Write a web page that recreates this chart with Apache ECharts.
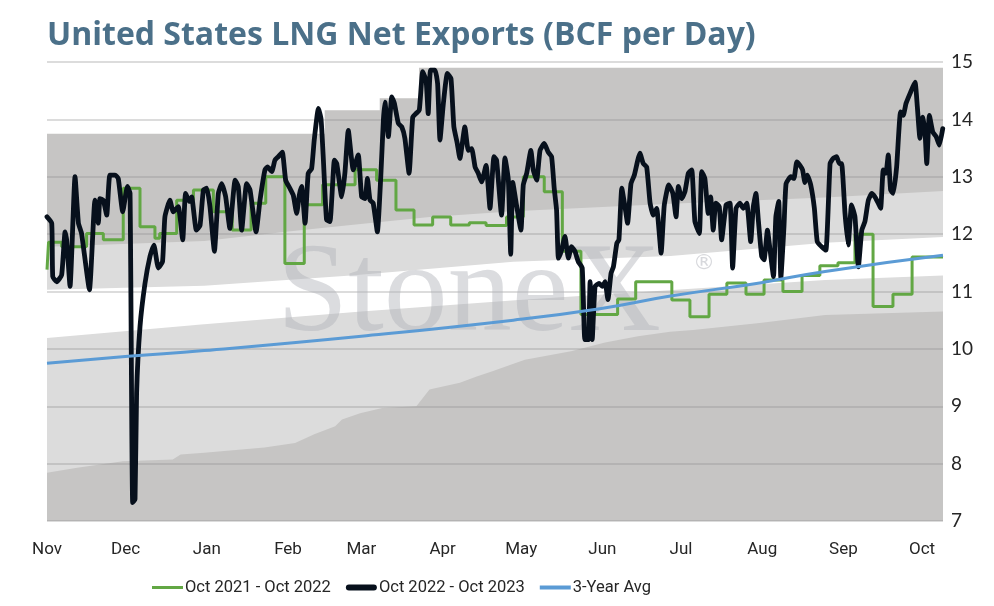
<!DOCTYPE html>
<html>
<head>
<meta charset="utf-8">
<script src="https://cdn.jsdelivr.net/npm/echarts@6/dist/echarts.min.js"></script>
<style>
html,body{margin:0;padding:0;background:#fff;}
#chart{width:994px;height:606px;}
</style>
</head>
<body>
<div id="chart"></div>
<script>
// X axis: days since Nov 1
const months = ['Nov','Dec','Jan','Feb','Mar','Apr','May','Jun','Jul','Aug','Sep','Oct'];
const monthStartDays = [0,30,61,92,120,151,181,212,242,273,304,334];
const yTicks = [7,8,9,10,11,12,13,14,15];

// Oct 2022 - Oct 2023 (daily)
const blackDays = [0,1.8,2.2,3.7,5.6,6.9,7.5,8.8,10.7,12.0,13.2,16.2,18.3,19.6,20.2,21.5,22.8,24.0,26.0,27.2,28.9,30.7,31.7,32.7,33.6,34.2,35.5,37.4,39.3,40.8,42.5,44.1,45.0,46.9,48.2,50.1,51.8,52.9,54.3,55.2,57.0,58.4,59.7,61.0,62.2,63.9,65.4,66.7,68.2,69.8,71.8,73.0,74.3,76.2,77.5,79.8,81.3,83.2,84.2,85.8,87.0,88.3,89.8,91.1,92.7,94.0,95.3,96.3,97.2,98.5,99.7,101.0,102.0,103.6,104.6,105.5,106.7,108.0,109.7,110.6,112.5,113.7,115.0,116.9,118.8,120.1,121.4,122.3,123.3,124.5,126.1,127.4,128.4,129.0,130.3,131.6,132.6,134.1,135.4,136.6,138.2,139.6,140.8,142.1,143.4,144.7,145.5,146.4,148.1,149.1,150.0,151.3,152.8,154.2,155.3,156.6,157.6,159.5,160.8,162.1,163.4,164.6,165.9,167.6,169.1,170.6,171.6,173.5,174.8,176.1,177.0,177.8,179.3,180.9,181.8,183.1,184.7,185.6,186.9,188.2,189.8,191.3,192.6,193.6,194.5,195.2,196.4,197.7,199.0,200.2,201.5,202.8,204.3,205.3,206.6,207.3,208.1,209.2,210.7,212.0,213.0,214.1,215.3,216.2,217.5,218.3,219.4,220.6,221.6,222.9,224.2,225.5,226.3,227.6,228.9,230.2,231.4,232.7,234.4,235.6,237.3,238.9,240.1,241.0,242.3,243.5,244.8,246.1,247.3,249.0,249.9,251.1,252.4,253.3,254.3,255.3,256.6,257.5,259.2,260.7,261.7,263.0,264.5,265.8,267.1,268.6,269.6,270.6,271.5,272.8,273.7,275.0,276.0,277.3,278.2,279.3,280.1,281.3,282.1,283.9,285.1,286.2,287.4,288.4,289.3,290.2,291.5,292.9,294.0,295.7,297.3,298.9,300.1,301.4,302.4,303.3,304.6,305.8,307.1,308.4,309.7,311.0,312.2,313.5,314.8,316.0,317.3,318.2,319.2,320.2,321.1,322.0,323.0,324.3,325.8,326.8,327.9,329.4,331.3,332.2,333.2,334.2,335.1,335.8,336.8,338.1,339.4,340.6,341.9];
const blackValues = [12.30,12.19,11.26,11.17,11.29,12.04,11.9,11.09,13.0,12.19,12.01,11.03,12.59,12.19,12.62,12.59,12.33,13.03,13.03,12.97,12.39,12.83,12.71,7.32,7.38,9.23,10.39,11.14,11.61,11.81,11.41,11.52,12.3,12.59,12.39,12.48,11.9,12.71,12.57,12.65,12.07,12.15,12.77,12.8,12.48,11.7,12.71,12.88,12.65,12.1,12.94,12.83,12.07,12.88,12.77,12.04,12.59,13.12,13.17,13.09,13.29,13.35,13.43,12.94,12.8,12.68,12.36,12.68,12.83,12.19,13.06,13.14,13.64,14.19,14.01,13.29,12.25,12.22,13.29,13.23,12.65,13.06,13.81,13.12,13.38,12.65,12.62,12.97,12.59,12.54,12.04,13.0,13.99,14.3,13.7,14.39,14.28,13.93,13.87,13.67,13.06,14.04,14.1,14.16,14.83,14.68,14.1,14.86,14.86,14.62,13.64,14.28,14.8,14.71,13.87,13.58,13.32,13.87,13.46,13.49,13.17,13.06,12.91,13.2,12.45,13.35,13.29,12.33,13.33,12.94,11.65,12.9,12.48,12.07,12.86,13.06,13.46,13.12,12.94,13.46,13.58,13.43,13.35,12.8,12.42,11.58,11.72,11.96,11.58,11.78,11.7,11.52,11.41,10.16,10.16,11.17,10.16,11.09,11.14,11.09,11.17,10.86,11.32,11.43,11.84,11.9,12.8,12.48,12.19,12.88,13.03,13.29,13.41,13.23,13.17,12.54,12.33,12.45,11.67,12.5,12.86,12.71,12.3,12.83,12.62,12.74,13.06,13.12,12.22,12.01,13.09,12.97,12.36,12.65,12.07,12.54,12.48,11.9,12.51,12.54,11.41,12.45,12.54,12.45,12.54,11.87,12.48,12.71,12.25,11.61,11.55,12.07,11.72,11.26,12.3,12.57,11.23,12.13,12.88,13.0,12.97,13.26,13.2,13.12,12.9,13.03,12.86,12.45,11.87,11.78,11.72,13.23,13.32,13.35,13.23,13.23,12.36,11.81,12.51,12.3,11.43,12.07,12.22,12.59,12.71,12.65,12.54,12.45,13.12,13.06,13.38,12.77,12.71,13.17,14.13,14.07,14.28,14.45,14.65,14.22,13.67,14.04,13.81,13.23,14.07,13.78,13.7,13.55,13.84];

// Oct 2021 - Oct 2022 (step changes)
const greenDays = [0,0.6,5.6,15.1,21.5,29.1,35.5,41.2,43,49.5,55.9,63.5,70.7,77.9,83.5,90.8,98.2,105.2,117.6,125.8,133.2,140.1,147.2,154.1,161.2,167.6,175.4,181.8,189.8,196.7,203.8,217.8,224.7,238.5,245.4,252.7,259.5,266.8,273.7,280.9,288.2,295,301.9,308.4,315.3,322.9,330.2,342];
const greenValues = [11.38,11.86,11.78,12.01,11.9,12.8,12.13,11.93,12.01,12.59,12.77,12.39,12.07,12.54,13.0,11.49,12.51,12.86,13.12,12.94,12.42,12.16,12.3,12.16,12.2,12.15,12.3,13.0,12.74,11.7,10.6,10.87,11.17,10.85,10.56,10.95,11.15,10.95,11.2,11.0,11.28,11.45,11.5,12.0,10.74,10.95,11.6,11.6];

// 3-Year Avg
const avgDays = [0,31,60,120,178,211,238,272,297,342];
const avgValues = [9.75,9.87,9.97,10.22,10.5,10.7,10.92,11.15,11.35,11.63];

// Historical range bands (boundaries, bottom to top)
const maxDays = [0,106,127,142,342];
const maxValues = [13.75,14.16,14.37,14.9,14.9];
const upperDays = [0,60,93,116,146,178,238,297,342];
const upperValues = [11.78,11.88,12.05,12.16,12.3,12.4,12.53,12.64,12.75];
const midHighDays = [0,60,116,178,238,297,342];
const midHighValues = [11.03,11.1,11.28,11.52,11.62,11.85,11.95];
const midLowDays = [0,60,120,180,230,297,342];
const midLowValues = [10.19,10.43,10.65,10.85,11.0,11.2,11.28];
const minDays = [0,11.5,29,48,51,60,83,94.7,102,110,112.6,119.5,128,141,146,157.6,164,170,178.6,182.4,200,213,225.6,237.8,246.6,272,297,342];
const minValues = [7.84,7.93,8.04,8.07,8.16,8.19,8.28,8.36,8.51,8.65,8.77,8.88,8.97,9.0,9.29,9.41,9.52,9.61,9.75,9.81,9.96,10.11,10.22,10.3,10.33,10.45,10.59,10.65];

const pair = (xs, ys) => xs.map((x, i) => [x, ys[i]]);
const DARK = '#c6c5c4', LIGHT = '#dcdcdc', WHITE = '#ffffff';
const FONT = 'Lato';
const NARROW = 'Roboto';
const GREEN = '#62a744', BLACK = '#07101c', BLUE = '#5b9bd5';

function band(xs, ys, color, step) {
  return {
    type: 'line', data: pair(xs, ys), symbol: 'none', z: 1, silent: true,
    step: step || false,
    lineStyle: { width: 0 }, areaStyle: { color: color, opacity: 1 },
    emphasis: { disabled: true }
  };
}

const chart = echarts.init(document.getElementById('chart'), null, { renderer: 'canvas' });
chart.setOption({
  animation: false,
  backgroundColor: '#ffffff',
  title: {
    text: 'United States LNG Net Exports (BCF per Day)',
    left: 42, top: 15,
    textStyle: { fontFamily: '"Open Sans"', fontSize: 32, fontWeight: 'bold', color: '#4b7089' }
  },
  grid: { left: 47, right: 51, top: 62, bottom: 85 },
  legend: {
    left: 147, top: 574,
    itemWidth: 31, itemHeight: 14, itemGap: 15,
    data: [
      { name: 'Oct 2021 - Oct 2022', icon: 'path://M0,0h31v3h-31z', itemStyle: { color: GREEN } },
      { name: 'Oct 2022 - Oct 2023', icon: 'path://M3,0h25a3,3 0 0 1 0,6h-25a3,3 0 0 1 0,-6z', itemStyle: { color: BLACK } },
      { name: '3-Year Avg', icon: 'path://M0,0h31v4h-31z', itemStyle: { color: BLUE } }
    ],
    textStyle: { fontFamily: NARROW, fontSize: 16.5, color: '#262626', padding: [0, 0, 0, -3] }
  },
  xAxis: {
    type: 'value', min: 0, max: 342,
    axisLine: { show: false }, axisTick: { show: false }, splitLine: { show: false },
    axisLabel: {
      customValues: monthStartDays,
      formatter: v => months[monthStartDays.indexOf(v)],
      fontFamily: NARROW, fontSize: 17, color: '#262626', margin: 20
    }
  },
  yAxis: {
    type: 'value', position: 'right', min: yTicks[0], max: yTicks[yTicks.length - 1], interval: 1,
    z: 1.5,
    axisLine: { show: false }, axisTick: { show: false },
    axisLabel: { fontFamily: FONT, fontSize: 19, color: '#262626', margin: 8 },
    splitLine: { lineStyle: { color: 'rgba(140,140,140,0.3)', width: 2 } }
  },
  graphic: [
    { type: 'text', left: 277, top: 232, z: 2, silent: true,
      style: { text: 'StoneX', font: '128px "Liberation Serif"', fill: 'rgba(175,177,185,0.45)' } },
    { type: 'text', left: 693, top: 252, z: 2, silent: true,
      style: { text: '®', font: '22px "DejaVu Sans"', fill: 'rgba(175,177,185,0.5)' } }
  ],
  series: [
    band(maxDays, maxValues, DARK, 'end'),
    band(upperDays, upperValues, LIGHT),
    band(midHighDays, midHighValues, WHITE),
    band(midLowDays, midLowValues, LIGHT),
    band(minDays, minValues, DARK),
    {
      name: 'Oct 2021 - Oct 2022', type: 'line', data: pair(greenDays, greenValues),
      step: 'end', symbol: 'none', z: 3, color: GREEN,
      lineStyle: { width: 3, color: GREEN }
    },
    {
      name: 'Oct 2022 - Oct 2023', type: 'line', data: pair(blackDays, blackValues),
      symbol: 'none', z: 4, color: BLACK, smooth: 0.15,
      lineStyle: { width: 4.8, color: BLACK, join: 'round', cap: 'round' }
    },
    {
      name: '3-Year Avg', type: 'line', data: pair(avgDays, avgValues),
      symbol: 'none', z: 5, color: BLUE, smooth: true,
      lineStyle: { width: 3, color: BLUE }
    }
  ]
});
</script>
</body>
</html>
